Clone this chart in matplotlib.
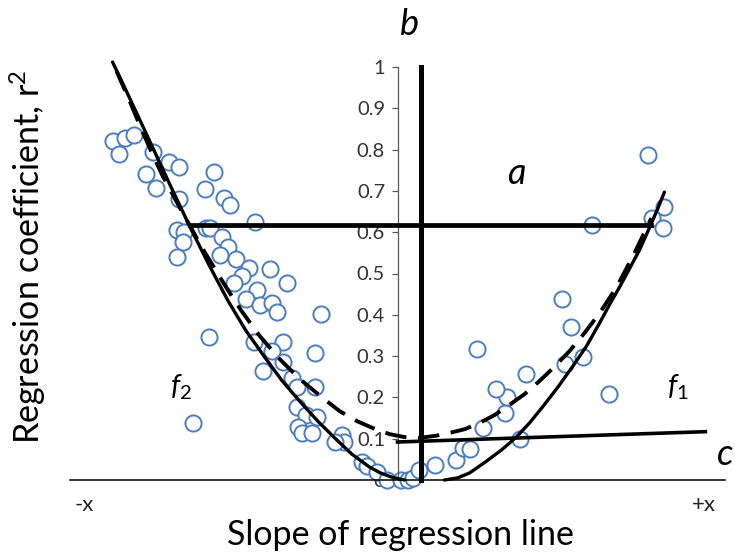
import numpy as np
import matplotlib
matplotlib.use("Agg")
import matplotlib.pyplot as plt

plt.rcParams['font.family'] = ['Lato', 'DejaVu Sans']
plt.rcParams['mathtext.fontset'] = 'custom'
plt.rcParams['mathtext.rm'] = 'Lato'
plt.rcParams['mathtext.it'] = 'Lato:italic'

# scatter of observed (slope, r^2) pairs
pts_x = [-0.870, -0.833, -0.806, -0.849, -0.748, -0.699, -0.666, -0.769, -0.736, -0.559,
         -0.589, -0.531, -0.510, -0.666, -0.434, -0.672, -0.653, -0.656, -0.672, -0.586,
         -0.574, -0.537, -0.519, -0.543, -0.492, -0.452, -0.388, -0.476, -0.498, -0.430,
         -0.336, -0.464, -0.421, -0.382, -0.369, -0.235, -0.577, -0.437, -0.351, -0.382,
         -0.253, -0.351, -0.412, -0.321, -0.308, -0.253, -0.308, -0.278, -0.247, -0.305,
         -0.293, -0.260, -0.168, -0.162, -0.192, -0.623, -0.107, -0.092, -0.064, -0.031,
         0.012, 0.031, 0.046, 0.067, 0.113, 0.180, 0.199, 0.220, 0.260, 0.327,
         0.333, 0.302, 0.244, 0.391, 0.373, 0.501, 0.531, 0.565, 0.510, 0.647,
         0.766, 0.815, 0.776, 0.812, 0.595]
pts_y = [0.821, 0.828, 0.835, 0.789, 0.794, 0.770, 0.758, 0.741, 0.707, 0.746,
         0.705, 0.683, 0.666, 0.680, 0.625, 0.605, 0.600, 0.576, 0.540, 0.610,
         0.610, 0.588, 0.564, 0.545, 0.535, 0.513, 0.511, 0.494, 0.477, 0.460,
         0.477, 0.438, 0.424, 0.429, 0.407, 0.402, 0.346, 0.334, 0.334, 0.312,
         0.307, 0.286, 0.264, 0.247, 0.225, 0.225, 0.177, 0.157, 0.153, 0.128,
         0.114, 0.114, 0.109, 0.092, 0.092, 0.138, 0.044, 0.034, 0.019, 0.0,
         0.0, 0.0, 0.005, 0.024, 0.036, 0.048, 0.077, 0.075, 0.126, 0.162,
         0.201, 0.220, 0.317, 0.257, 0.099, 0.438, 0.370, 0.298, 0.281, 0.208,
         0.787, 0.661, 0.634, 0.610, 0.617]

# trend f2 (negative slopes)
f2_x = [-0.870, -0.818, -0.757, -0.696, -0.635, -0.577, -0.519, -0.464, -0.406,
        -0.354, -0.299, -0.244, -0.192, -0.140, -0.085, -0.052, -0.018, 0.021]
f2_y = [1.012, 0.925, 0.821, 0.717, 0.615, 0.523, 0.436, 0.363, 0.298,
        0.242, 0.191, 0.143, 0.102, 0.063, 0.031, 0.017, 0.007, 0.0]

# trend f1 (positive slopes)
f1_x = [0.143, 0.183, 0.220, 0.269, 0.318, 0.363, 0.403, 0.443, 0.488, 0.534,
        0.577, 0.617, 0.647, 0.678, 0.708, 0.739, 0.769, 0.794, 0.815]
f1_y = [0.0, 0.005, 0.017, 0.044, 0.073, 0.104, 0.138, 0.177, 0.223, 0.274,
        0.324, 0.380, 0.424, 0.467, 0.511, 0.557, 0.610, 0.656, 0.697]

# overall trend (dashed)
all_x = [-0.858, -0.820, -0.785, -0.751, -0.717, -0.659, -0.589, -0.522, -0.476,
         -0.421, -0.360, -0.299, -0.229, -0.177, -0.125, -0.076, -0.024, 0.021,
         0.067, 0.116, 0.159, 0.205, 0.250, 0.296, 0.342, 0.388, 0.434, 0.479,
         0.525, 0.571, 0.617, 0.669, 0.724, 0.775]
all_y = [0.990, 0.922, 0.855, 0.794, 0.736, 0.651, 0.552, 0.465, 0.409,
         0.349, 0.293, 0.245, 0.199, 0.167, 0.143, 0.126, 0.111, 0.104,
         0.102, 0.107, 0.114, 0.123, 0.138, 0.157, 0.182, 0.208, 0.240, 0.274,
         0.312, 0.356, 0.404, 0.467, 0.550, 0.634]

# reference lines a, b, c
a_x = [-0.635, 0.775]
a_y = [0.617, 0.617]
b_x = [0.073, 0.073]
b_y = [0.0, 1.0]
c_x = [0.0, 0.940]
c_y = [0.092, 0.117]

yticks = np.round(np.arange(0, 1.01, 0.1), 1)
ytick_labels = ['0'] + ['%.1f' % v for v in yticks[1:-1]] + ['1']

fig = plt.figure(figsize=(7.35, 5.52), dpi=100)
ax = fig.add_axes([70 / 735, 72 / 552, 655 / 735, 413 / 552])
ax.set_xlim(-1, 1)
ax.set_ylim(0, 1)

blue = '#4A7EC0'
ax.scatter(pts_x, pts_y, s=135, facecolors='white', edgecolors=blue,
           linewidths=1.4, zorder=2, clip_on=False)

ax.plot(f2_x, f2_y, color='black', lw=2.4, zorder=3, clip_on=False,
        solid_capstyle='round')
ax.plot(f1_x, f1_y, color='black', lw=2.4, zorder=3, clip_on=False,
        solid_capstyle='round')
ax.plot(all_x, all_y, color='black', lw=2.8, ls=(0, (5.5, 3)), zorder=3,
        clip_on=False)
ax.plot(a_x, a_y, color='black', lw=3.4, zorder=4, clip_on=False)
ax.plot(b_x, b_y, color='black', lw=3.6, zorder=4, clip_on=False)
ax.plot(c_x, c_y, color='black', lw=2.6, zorder=4, clip_on=False)

# axes: vertical at x=0, horizontal at y=0
for s in ['top', 'right']:
    ax.spines[s].set_visible(False)
ax.spines['left'].set_position(('data', 0))
ax.spines['left'].set_bounds(0, 1)
ax.spines['left'].set_color('#595959')
ax.spines['left'].set_linewidth(0.9)
ax.spines['bottom'].set_position(('data', 0))
ax.spines['bottom'].set_color('black')
ax.spines['bottom'].set_linewidth(1.1)
ax.set_xticks([])
ax.set_yticks(yticks)
ax.set_yticklabels(ytick_labels)
ax.tick_params(axis='y', direction='out', length=4, width=0.9,
               color='#595959', labelsize=14.5, labelcolor='#333333', pad=5)

# annotations
ax.text(0.037, 1.102, 'b', style='italic', fontsize=26, ha='center', va='center')
ax.text(0.363, 0.743, 'a', style='italic', fontsize=26, ha='center', va='center')
ax.text(1.025, 0.061, 'c', style='italic', fontsize=26, ha='right', va='center',
        clip_on=False)
ax.text(-0.660, 0.225, r'$\mathit{f}_{\mathit{2}}$', fontsize=21, ha='center', va='center')
ax.text(0.855, 0.225, r'$\mathit{f}_{\mathit{1}}$', fontsize=21, ha='center', va='center')
ax.text(-0.956, -0.061, '-x', fontsize=16, ha='center', va='center', color='#222222')
ax.text(0.937, -0.061, '+x', fontsize=16, ha='center', va='center', color='#222222')

fig.text(400 / 735, 1 - 535 / 552, 'Slope of regression line', fontsize=24.5,
         ha='center', va='center')
fig.text(28 / 735, 1 - 257 / 552, 'Regression coefficient, r$^2$', fontsize=24.5,
         ha='center', va='center', rotation=90)

fig.savefig('out.png', dpi=100)
